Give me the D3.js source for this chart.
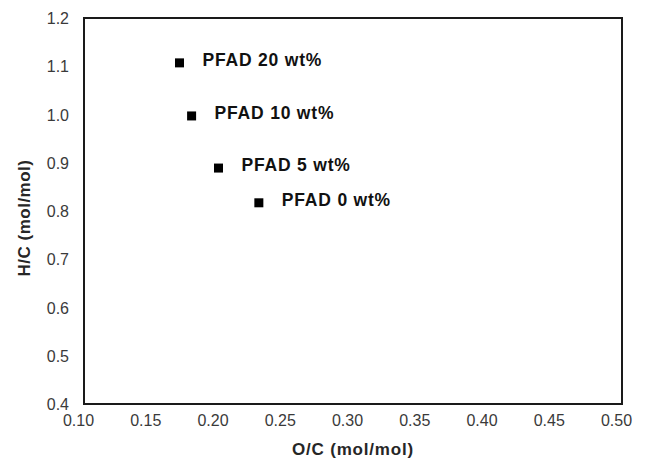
<!DOCTYPE html>
<html>
<head>
<meta charset="utf-8">
<script src="https://cdn.jsdelivr.net/npm/d3@7"></script>
<style>
  body { margin: 0; background: #fff; }
  text { font-family: "Liberation Sans", Arial, sans-serif; }
</style>
</head>
<body>
<div id="chart"></div>
<script>
var labels = ['PFAD 20 wt%', 'PFAD 10 wt%', 'PFAD 5 wt%', 'PFAD 0 wt%'];
var oc = [0.171, 0.180, 0.200, 0.230];
var hc = [1.107, 0.997, 0.889, 0.817];
var xTicks = [0.10, 0.15, 0.20, 0.25, 0.30, 0.35, 0.40, 0.45, 0.50];
var yTicks = [0.4, 0.5, 0.6, 0.7, 0.8, 0.9, 1.0, 1.1, 1.2];

var width = 647, height = 462;
var margin = {top: 18, right: 25, bottom: 58, left: 84};

var svg = d3.select('#chart').append('svg')
  .attr('width', width)
  .attr('height', height);

var xScale = d3.scaleLinear().domain([0.10, 0.50]).range([margin.left, width - margin.right]);
var yScale = d3.scaleLinear().domain([0.4, 1.2]).range([height - margin.bottom, margin.top]);

// frame
svg.append('rect')
  .attr('x', margin.left)
  .attr('y', margin.top)
  .attr('width', xScale.range()[1] - margin.left)
  .attr('height', yScale.range()[0] - margin.top)
  .attr('fill', 'none')
  .attr('stroke', '#1a1a1a')
  .attr('stroke-width', 2);

var xAxis = svg.append('g')
  .attr('transform', 'translate(0,' + (height - margin.bottom) + ')')
  .call(d3.axisBottom(xScale).tickValues(xTicks).tickFormat(d3.format('.2f')).tickSize(0));
xAxis.select('.domain').remove();
xAxis.selectAll('text')
  .attr('dy', 0)
  .attr('y', 22)
  .attr('dx', -6)
  .attr('fill', '#3a3a3a')
  .style('font-size', '16px');

var yAxis = svg.append('g')
  .attr('transform', 'translate(' + margin.left + ',0)')
  .call(d3.axisLeft(yScale).tickValues(yTicks).tickFormat(d3.format('.1f')).tickSize(0));
yAxis.select('.domain').remove();
yAxis.selectAll('text')
  .attr('x', -15)
  .attr('dy', '0.35em')
  .attr('fill', '#3a3a3a')
  .style('font-size', '16px');

// axis titles
svg.append('text')
  .attr('x', 353)
  .attr('y', 455)
  .attr('text-anchor', 'middle')
  .attr('fill', '#262626')
  .style('font-size', '17px')
  .style('letter-spacing', '0.8px')
  .style('font-weight', 'bold')
  .text('O/C (mol/mol)');

svg.append('text')
  .attr('transform', 'translate(30,218) rotate(-90)')
  .attr('text-anchor', 'middle')
  .attr('fill', '#262626')
  .style('font-size', '17px')
  .style('letter-spacing', '0.5px')
  .style('font-weight', 'bold')
  .text('H/C (mol/mol)');

// points
var pts = svg.append('g').selectAll('g')
  .data(labels)
  .enter()
  .append('g');

pts.append('rect')
  .attr('x', function(d, i) { return xScale(oc[i]) - 4.5; })
  .attr('y', function(d, i) { return yScale(hc[i]) - 4.5; })
  .attr('width', 9)
  .attr('height', 9)
  .attr('fill', '#000');

pts.append('text')
  .attr('x', function(d, i) { return xScale(oc[i]) + 23; })
  .attr('y', function(d, i) { return yScale(hc[i]) + 3; })
  .attr('fill', '#111')
  .style('font-size', '17.5px')
  .style('letter-spacing', '0.8px')
  .style('font-weight', 'bold')
  .text(function(d) { return d; });
</script>
</body>
</html>
